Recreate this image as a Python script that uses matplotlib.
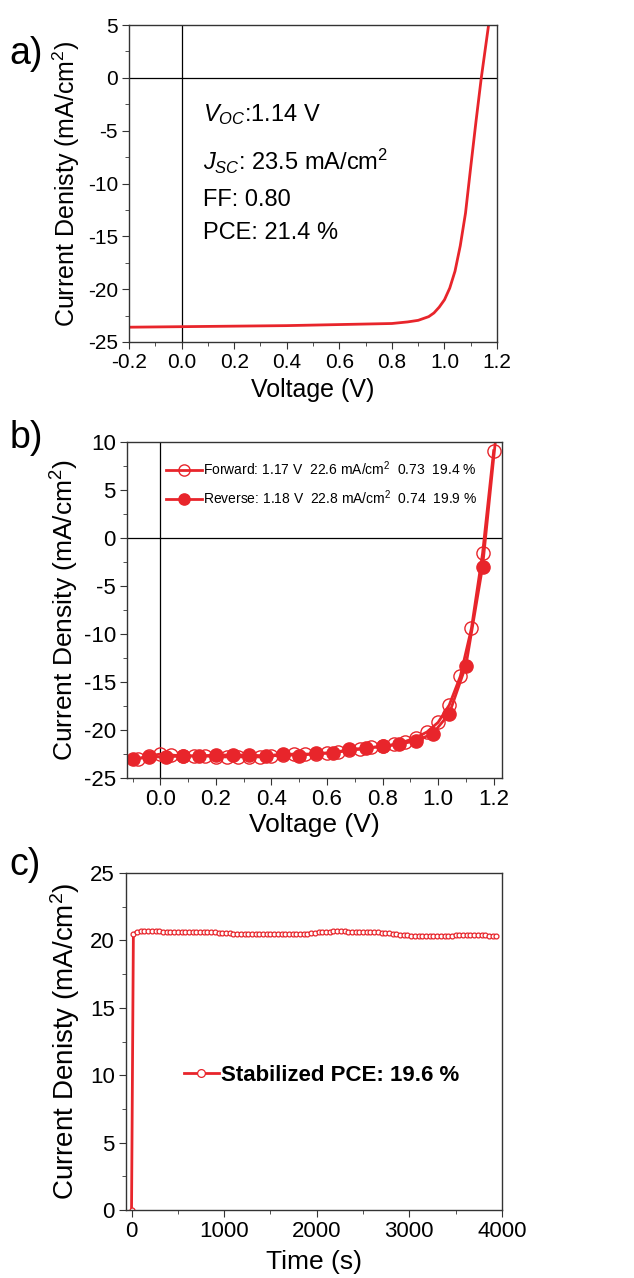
import numpy as np
import matplotlib
matplotlib.use("Agg")
import matplotlib.pyplot as plt
from matplotlib import font_manager
from matplotlib.ticker import MultipleLocator

# --- data ---
# a) champion J-V curve
volt_a = [-0.2, 0.0, 0.2, 0.4, 0.6, 0.8, 0.86, 0.9, 0.94, 0.96, 0.98, 1.0,
          1.02, 1.04, 1.06, 1.08, 1.10, 1.12, 1.14, 1.16, 1.18]
curr_a = [-23.6, -23.55, -23.5, -23.45, -23.35, -23.25, -23.1, -22.95, -22.6,
          -22.25, -21.7, -21.0, -19.9, -18.3, -15.9, -12.8, -8.4, -4.1, 0.0,
          3.6, 7.2]

# b) hysteresis, forward scan (open) and reverse scan (filled)
volt_fwd = [-0.08, -0.04, 0.0, 0.04, 0.08, 0.12, 0.16, 0.20, 0.24, 0.28, 0.32,
            0.36, 0.40, 0.44, 0.48, 0.52, 0.56, 0.60, 0.64, 0.68, 0.72, 0.76,
            0.80, 0.84, 0.88, 0.92, 0.96, 1.00, 1.04, 1.08, 1.12, 1.16, 1.20]
curr_fwd = [-23.0, -22.7, -22.5, -22.6, -22.7, -22.7, -22.7, -22.8, -22.8,
            -22.8, -22.8, -22.8, -22.7, -22.6, -22.5, -22.5, -22.5, -22.4,
            -22.3, -22.1, -22.0, -21.8, -21.7, -21.5, -21.2, -20.8, -20.2,
            -19.2, -17.4, -14.4, -9.4, -1.6, 9.1]
volt_rev = [-0.10, -0.04, 0.02, 0.08, 0.14, 0.20, 0.26, 0.32, 0.38, 0.44, 0.50,
            0.56, 0.62, 0.68, 0.74, 0.80, 0.86, 0.92, 0.98, 1.04, 1.10, 1.16,
            1.22]
curr_rev = [-23.0, -22.8, -22.8, -22.7, -22.7, -22.6, -22.6, -22.6, -22.7,
            -22.5, -22.7, -22.4, -22.4, -22.0, -21.9, -21.7, -21.5, -21.1,
            -20.4, -18.3, -13.3, -3.0, 14.0]

label_fwd = "Forward: 1.17 V  22.6 mA/cm$^2$  0.73  19.4 %"
label_rev = "Reverse: 1.18 V  22.8 mA/cm$^2$  0.74  19.9 %"

# c) stabilised current at max power point
time_c = [0] + list(range(20, 3980, 40))
curr_c = [0.0, 20.5, 20.65, 20.7, 20.7, 20.7, 20.7, 20.7, 20.7, 20.65, 20.65,
          20.65, 20.6, 20.6, 20.6, 20.6, 20.6, 20.6, 20.6, 20.6, 20.6, 20.6,
          20.6, 20.6, 20.55, 20.55, 20.55, 20.55, 20.5, 20.5, 20.5, 20.45,
          20.45, 20.45, 20.45, 20.45, 20.45, 20.45, 20.45, 20.45, 20.45, 20.45,
          20.45, 20.45, 20.45, 20.45, 20.5, 20.5, 20.5, 20.55, 20.55, 20.6,
          20.6, 20.65, 20.65, 20.7, 20.7, 20.7, 20.7, 20.65, 20.65, 20.6, 20.6,
          20.6, 20.6, 20.6, 20.6, 20.6, 20.55, 20.55, 20.55, 20.5, 20.45, 20.4,
          20.4, 20.4, 20.35, 20.35, 20.35, 20.35, 20.35, 20.35, 20.35, 20.35,
          20.35, 20.35, 20.35, 20.35, 20.4, 20.4, 20.4, 20.4, 20.4, 20.4, 20.4,
          20.4, 20.4, 20.35, 20.35, 20.35]

red = "#e8252b"

names = {f.name for f in font_manager.fontManager.ttflist}
fam = "Liberation Sans Narrow" if "Liberation Sans Narrow" in names else "Liberation Sans"
plt.rcParams["font.family"] = [fam, "DejaVu Sans"]
plt.rcParams["axes.unicode_minus"] = False
plt.rcParams["mathtext.fontset"] = "custom"
plt.rcParams["mathtext.rm"] = fam
plt.rcParams["mathtext.it"] = fam + ":italic"
plt.rcParams["mathtext.bf"] = fam + ":bold"

fig = plt.figure(figsize=(6.34, 12.78), dpi=100)
ax_a = fig.add_axes([0.2035, 0.7324, 0.5805, 0.248])
ax_b = fig.add_axes([0.2003, 0.3912, 0.5915, 0.2629])
ax_c = fig.add_axes([0.1987, 0.0532, 0.593, 0.2637])


def style(ax):
    for s in ax.spines.values():
        s.set_color("#333333")
        s.set_linewidth(1.0)
    ax.tick_params(which="both", direction="out", top=False, right=False,
                   color="#333333", labelsize=15, pad=3)
    ax.tick_params(which="major", length=5)
    ax.tick_params(which="minor", length=3)


# a)
ax_a.axhline(0, color="black", lw=0.9)
ax_a.axvline(0, color="black", lw=0.9)
ax_a.plot(volt_a, curr_a, color=red, lw=2.0)
ax_a.set_xlim(-0.2, 1.2)
ax_a.set_ylim(-25, 5)
ax_a.xaxis.set_major_locator(MultipleLocator(0.2))
ax_a.xaxis.set_minor_locator(MultipleLocator(0.1))
ax_a.yaxis.set_major_locator(MultipleLocator(5))
ax_a.yaxis.set_minor_locator(MultipleLocator(2.5))
ax_a.xaxis.set_major_formatter(plt.FuncFormatter(lambda v, p: f"{v:.1f}"))
style(ax_a)
ax_a.set_xlabel("Voltage (V)", fontsize=18, labelpad=4)
ax_a.set_ylabel("Current Denisty (mA/cm$^2$)", fontsize=18, labelpad=4)
txt = ["$V_{OC}$:1.14 V", "$J_{SC}$: 23.5 mA/cm$^2$", "FF: 0.80", "PCE: 21.4 %"]
txt_y = [-3.5, -7.9, -11.6, -14.7]
for t, yy in zip(txt, txt_y):
    ax_a.text(0.08, yy, t, fontsize=17, va="center")

# b)
ax_b.axhline(0, color="black", lw=0.9)
ax_b.axvline(0, color="black", lw=0.9)
ax_b.plot(volt_fwd, curr_fwd, color=red, lw=2.0, marker="o", ms=9.5,
          mfc="none", mec=red, mew=1.0, label=label_fwd)
ax_b.plot(volt_rev, curr_rev, color=red, lw=2.0, marker="o", ms=9.5,
          mfc=red, mec=red, label=label_rev)
ax_b.set_xlim(-0.12, 1.23)
ax_b.set_ylim(-25, 10)
ax_b.xaxis.set_major_locator(MultipleLocator(0.2))
ax_b.xaxis.set_minor_locator(MultipleLocator(0.1))
ax_b.yaxis.set_major_locator(MultipleLocator(5))
ax_b.yaxis.set_minor_locator(MultipleLocator(2.5))
ax_b.xaxis.set_major_formatter(plt.FuncFormatter(lambda v, p: f"{v:.1f}"))
style(ax_b)
ax_b.tick_params(labelsize=16)
ax_b.set_xlabel("Voltage (V)", fontsize=19, labelpad=2)
ax_b.set_ylabel("Current Density (mA/cm$^2$)", fontsize=19, labelpad=2)
ax_b.legend(loc="upper left", bbox_to_anchor=(0.07, 0.985), frameon=False,
            fontsize=10, handlelength=2.6, handletextpad=0.1,
            labelspacing=0.7, markerscale=0.85)

# c)
ax_c.plot(time_c, curr_c, color=red, lw=2.0, marker="o", ms=3.5,
          mfc="white", mec=red, mew=0.9, label="Stabilized PCE: 19.6 %")
ax_c.set_xlim(-60, 4000)
ax_c.set_ylim(0, 25)
ax_c.xaxis.set_major_locator(MultipleLocator(1000))
ax_c.xaxis.set_minor_locator(MultipleLocator(500))
ax_c.yaxis.set_major_locator(MultipleLocator(5))
ax_c.yaxis.set_minor_locator(MultipleLocator(2.5))
style(ax_c)
ax_c.tick_params(labelsize=16)
ax_c.set_xlabel("Time (s)", fontsize=19, labelpad=6)
ax_c.set_ylabel("Current Denisty (mA/cm$^2$)", fontsize=20, labelpad=6)
ax_c.legend(loc="center left", bbox_to_anchor=(0.1, 0.4), frameon=False,
            prop={"weight": "bold", "size": 16}, handlelength=1.6,
            handletextpad=0.1, markerscale=1.6)

fig.text(0.015, 0.958, "a)", fontsize=27, va="center")
fig.text(0.015, 0.657, "b)", fontsize=27, va="center")
fig.text(0.015, 0.323, "c)", fontsize=27, va="center")

fig.savefig("out.png", dpi=100)
